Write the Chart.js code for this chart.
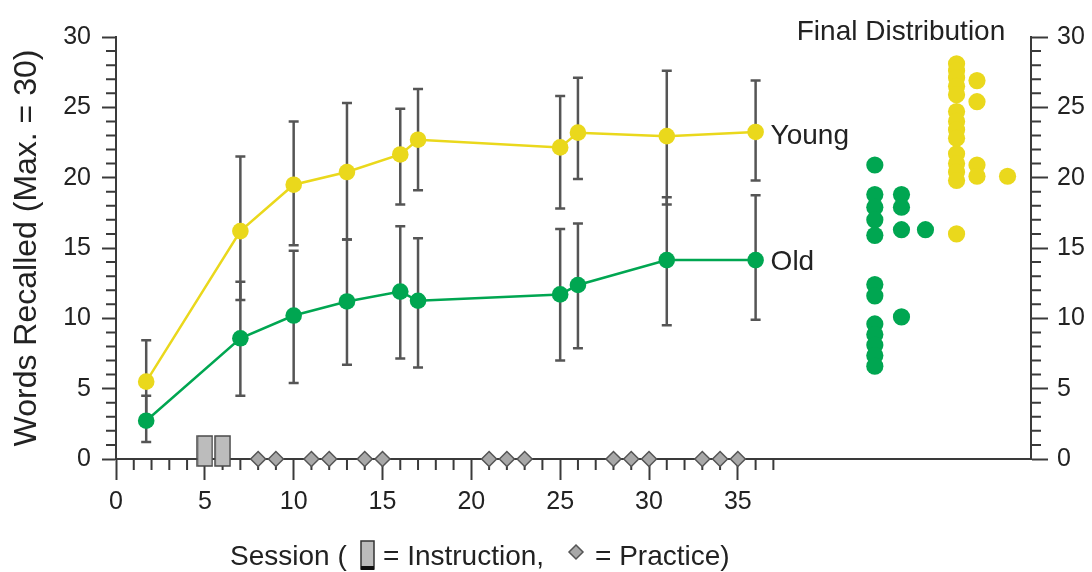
<!DOCTYPE html>
<html><head><meta charset="utf-8">
<script src="https://cdn.jsdelivr.net/npm/chart.js@4.4.0/dist/chart.umd.min.js"></script>
<style>html,body{margin:0;padding:0;background:#fff;}</style>
</head><body>
<canvas id="c" width="1092" height="572"></canvas>
<script>
// ---- data ----
const sessions   = [1.7, 7, 10, 13, 16, 17, 25, 26, 31, 36];
const youngMean  = [5.5, 16.2, 19.5, 20.4, 21.65, 22.7, 22.15, 23.2, 22.95, 23.25];
const youngLow   = [2.6, 11.3, 15.2, 15.6, 18.1, 19.1, 17.8, 19.9, 18.1, 19.8];
const youngHigh  = [8.45, 21.5, 24.0, 25.3, 24.9, 26.3, 25.8, 27.1, 27.6, 26.9];
const oldMean    = [2.72, 8.58, 10.2, 11.2, 11.9, 11.25, 11.7, 12.37, 14.14, 14.14];
const oldLow     = [1.2, 4.5, 5.4, 6.7, 7.15, 6.5, 7.0, 7.87, 9.5, 9.9];
const oldHigh    = [4.5, 12.6, 14.8, 15.6, 16.55, 15.7, 16.35, 16.75, 18.6, 18.75];
const instructionSessions = [5, 6];
const practiceSessions = [8, 9, 11, 12, 14, 15, 21, 22, 23, 28, 29, 30, 33, 34, 35];
// final distribution: values per stacking column
const youngFinalCol1 = [28.1, 27.6, 27.1, 26.5, 25.9, 24.7, 24.0, 23.4, 22.8, 21.7, 21.0, 20.4, 19.8, 16.0];
const youngFinalCol2 = [26.9, 25.4, 20.9, 20.1];
const youngFinalCol3 = [20.1];
const oldFinalCol1 = [20.9, 18.8, 17.9, 17.0, 15.9, 12.4, 11.6, 9.6, 8.85, 8.1, 7.35, 6.6];
const oldFinalCol2 = [18.8, 17.9, 16.3, 10.1];
const oldFinalCol3 = [16.3];
const xTickLabels = [0, 5, 10, 15, 20, 25, 30, 35];
const yTickLabels = [0, 5, 10, 15, 20, 25, 30];

// ---- layout constants (positions of distribution columns on x axis) ----
const YOUNG_COL_X = [47.31, 48.46, 50.18];
const OLD_COL_X = [42.71, 44.21, 45.56];
const YELLOW = '#ead81c', GREEN = '#00a651', AXIS = '#3a3a3a', TXT = '#222';
const FONT = "'Liberation Sans', Arial, sans-serif";

function colPts(cols, xs){ const out=[]; cols.forEach((c,i)=>c.forEach(v=>out.push({x:xs[i], y:v}))); return out; }

function instrIcon(){
  const c=document.createElement('canvas'); c.width=17; c.height=48;
  const g=c.getContext('2d'); g.fillStyle='#bcbcbc'; g.strokeStyle='#4a4a4a'; g.lineWidth=1.5;
  g.fillRect(1,1,15,30); g.strokeRect(1,1,15,30); return c;
}

const errorBars = {
  id:'errorBars',
  beforeDatasetsDraw(chart){
    const {ctx, scales:{x,y}} = chart;
    ctx.save(); ctx.strokeStyle='#555'; ctx.lineWidth=2.5;
    const draw=(lo,hi)=>sessions.forEach((s,i)=>{
      const px=x.getPixelForValue(s), y1=y.getPixelForValue(lo[i]), y2=y.getPixelForValue(hi[i]);
      ctx.beginPath(); ctx.moveTo(px,y1); ctx.lineTo(px,y2);
      ctx.moveTo(px-5,y1); ctx.lineTo(px+5,y1); ctx.moveTo(px-5,y2); ctx.lineTo(px+5,y2); ctx.stroke();
    });
    draw(oldLow, oldHigh); draw(youngLow, youngHigh);
    ctx.restore();
  }
};

const minorTicks = {
  id:'minorTicks',
  beforeDatasetsDraw(chart){
    const {ctx, scales:{x,y,y2}} = chart;
    ctx.save(); ctx.strokeStyle=AXIS; ctx.lineWidth=2;
    ctx.beginPath();
    for(let v=1; v<=37; v++){ if(v%5===0) continue; const px=x.getPixelForValue(v); ctx.moveTo(px,x.top); ctx.lineTo(px,x.top+11); }
    for(let v=0; v<=30; v++){ if(v%5===0) continue;
      const py=y.getPixelForValue(v); ctx.moveTo(y.right,py); ctx.lineTo(y.right-10,py);
      const py2=y2.getPixelForValue(v); ctx.moveTo(y2.left,py2); ctx.lineTo(y2.left+10,py2); }
    ctx.stroke(); ctx.restore();
  }
};

const texts = {
  id:'texts',
  afterDraw(chart){
    const {ctx, scales:{x,y}} = chart;
    ctx.save(); ctx.fillStyle=TXT; ctx.textBaseline='middle'; ctx.textAlign='left';
    ctx.font = "28px "+FONT;
    const n = sessions.length-1;
    ctx.fillText('Young', x.getPixelForValue(sessions[n])+15, y.getPixelForValue(youngMean[n])+4);
    ctx.fillText('Old', x.getPixelForValue(sessions[n])+15, y.getPixelForValue(oldMean[n])+2);
    ctx.textAlign='center';
    ctx.fillText('Final Distribution', 901, 32);
    // x-axis title with symbols
    ctx.textAlign='left';
    const ty = 557;
    ctx.fillText('Session (', 230, ty);
    ctx.fillStyle='#bcbcbc'; ctx.strokeStyle='#333'; ctx.lineWidth=1.5;
    ctx.fillRect(361,541,13,28); ctx.strokeRect(361,541,13,28);
    ctx.fillStyle='#111'; ctx.fillRect(361,566,13,4);
    ctx.fillStyle=TXT;
    ctx.fillText('= Instruction,', 383, ty);
    ctx.beginPath(); ctx.moveTo(576,545); ctx.lineTo(583,552); ctx.lineTo(576,559); ctx.lineTo(569,552); ctx.closePath();
    ctx.fillStyle='#a8a8a8'; ctx.fill(); ctx.strokeStyle='#555'; ctx.stroke();
    ctx.fillStyle=TXT;
    ctx.fillText('= Practice)', 595, ty);
    ctx.restore();
  }
};

const tickFont = {family: FONT, size: 25};

new Chart(document.getElementById('c'), {
  type:'scatter',
  data:{ datasets:[
    {type:'line', label:'Young', data: sessions.map((s,i)=>({x:s,y:youngMean[i]})), borderColor:YELLOW, backgroundColor:YELLOW,
      borderWidth:2.5, pointRadius:8.3, pointBorderWidth:0, pointBackgroundColor:YELLOW, showLine:true, tension:0, fill:false},
    {type:'line', label:'Old', data: sessions.map((s,i)=>({x:s,y:oldMean[i]})), borderColor:GREEN, backgroundColor:GREEN,
      borderWidth:2.5, pointRadius:8.3, pointBorderWidth:0, pointBackgroundColor:GREEN, showLine:true, tension:0, fill:false},
    {label:'Instruction', data: instructionSessions.map(s=>({x:s,y:0})), pointStyle: instrIcon(), pointRadius:8, clip:false},
    {label:'Practice', data: practiceSessions.map(s=>({x:s,y:0})), pointStyle:'rectRot', pointRadius:7.5,
      backgroundColor:'#a8a8a8', borderColor:'#555', pointBorderWidth:1.5, clip:false},
    {label:'Young final', data: colPts([youngFinalCol1,youngFinalCol2,youngFinalCol3], YOUNG_COL_X), pointRadius:8.6,
      backgroundColor:YELLOW, borderWidth:0, clip:false},
    {label:'Old final', data: colPts([oldFinalCol1,oldFinalCol2,oldFinalCol3], OLD_COL_X), pointRadius:8.6,
      backgroundColor:GREEN, borderWidth:0, clip:false}
  ]},
  options:{
    responsive:false, animation:false, devicePixelRatio:1,
    layout:{padding:{top:37, left:0, right:0, bottom:0}},
    plugins:{legend:{display:false}, tooltip:{enabled:false}},
    scales:{
      x:{type:'linear', min:0, max:51.5, position:'bottom',
        afterBuildTicks:(s)=>{ s.ticks = xTickLabels.map(v=>({value:v})); },
        afterFit:(s)=>{ s.height = 113; },
        grid:{drawOnChartArea:false, drawTicks:true, tickLength:21, tickWidth:2, tickColor:AXIS},
        border:{display:true, color:AXIS, width:2},
        ticks:{padding:7, font:tickFont, color:TXT, maxRotation:0, autoSkip:false}},
      y:{type:'linear', min:0, max:30, position:'left',
        afterBuildTicks:(s)=>{ s.ticks = yTickLabels.map(v=>({value:v})); },
        afterFit:(s)=>{ s.width = 116; },
        grid:{drawOnChartArea:false, drawTicks:true, tickLength:14, tickWidth:2, tickColor:AXIS},
        border:{display:true, color:AXIS, width:2},
        ticks:{padding:11, font:tickFont, color:TXT},
        title:{display:true, text:'Words Recalled (Max. = 30)', font:{family:FONT, size:32}, color:TXT, padding:{top:8,bottom:0}}},
      y2:{type:'linear', min:0, max:30, position:'right',
        afterBuildTicks:(s)=>{ s.ticks = yTickLabels.map(v=>({value:v})); },
        afterFit:(s)=>{ s.width = 61; },
        grid:{drawOnChartArea:false, drawTicks:true, tickLength:17, tickWidth:2, tickColor:AXIS},
        border:{display:true, color:AXIS, width:2},
        ticks:{padding:9, font:tickFont, color:TXT}}
    }
  },
  plugins:[errorBars, minorTicks, texts]
});
</script>
</body></html>
